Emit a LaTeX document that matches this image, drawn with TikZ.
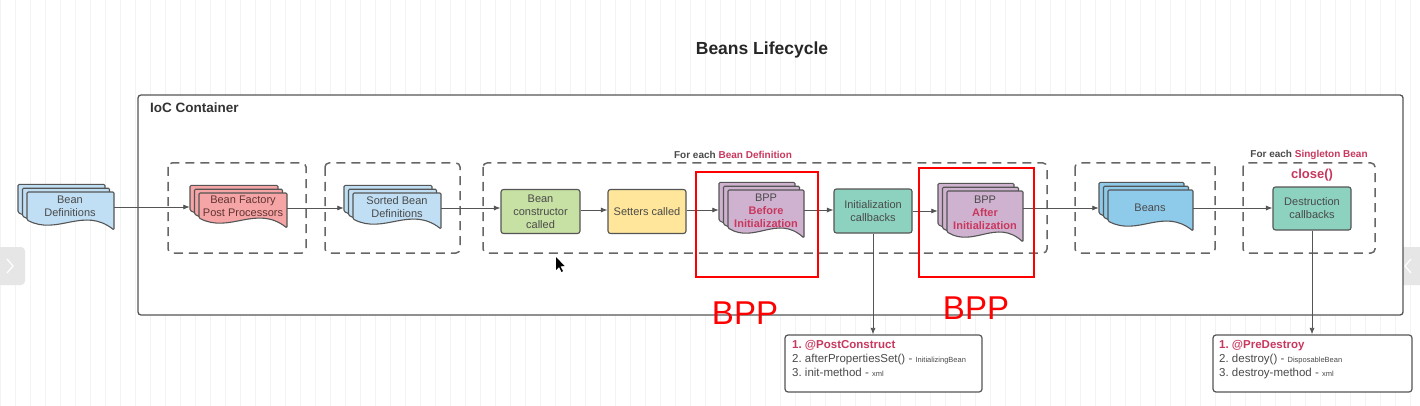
\documentclass[tikz,border=0pt]{standalone}
\usepackage{fontspec}
\setmainfont{Liberation Sans}
\usetikzlibrary{arrows.meta}
\frenchspacing
\definecolor{lnc}{HTML}{555555}
\definecolor{txc}{HTML}{4A4A4A}
\definecolor{crim}{HTML}{C8385E}
\definecolor{lblue}{HTML}{C0DFF4}
\definecolor{salmon}{HTML}{F5A5A5}
\definecolor{mauve}{HTML}{CFB2CF}
\definecolor{sky}{HTML}{8ECAEA}
\definecolor{lgreen}{HTML}{C7E0A3}
\definecolor{lyellow}{HTML}{FFE69A}
\definecolor{teal2}{HTML}{8CD2BE}
\definecolor{gridc}{HTML}{F3F3F3}
\definecolor{tabc}{HTML}{E6E6E6}
\newcommand\mydoc[6]{%
  \foreach \s in {2,1,0}{%
    \draw[docline,fill=#5,shift={(-4.5*\s,-3.8*\s)}] (#1,#2) -- (#1,#4) .. controls ({#1+0.35*(#3-#1)},{#4+16}) and ({#1+0.65*(#3-#1)},{#4-14}) .. (#3,{#4+10}) -- (#3,#2) -- cycle;
  }
  \node[inner sep=0,minimum width={(#3-#1+9)*1pt},minimum height={(#4-#2+17.6)*1pt}] (#6) at ({(#1+#3-9)/2},{(#2+#4+10-7.6)/2}) {};
}
\begin{document}
\begin{tikzpicture}[x=1pt,y=-1pt,
  docline/.style={draw=lnc,line width=1.1pt,rounded corners=1.2pt},
  dbox/.style={draw=lnc!90,line width=1.5pt,dash pattern=on 9pt off 6pt,rounded corners=4pt},
  stepbox/.style={draw=lnc,line width=1.1pt,rounded corners=2.5pt,inner sep=0pt},
  btxt/.style={text=txc,align=center,font=\fontsize{11}{13}\selectfont},
  arr/.style={draw=lnc,line width=0.8pt,-{Latex[length=6.5pt,width=5pt]}},
  vline/.style={draw=lnc,line width=0.8pt,-{Latex[length=6.5pt,width=5pt]}},
  redbox/.style={draw=red,line width=2.4pt},
  listbox/.style={draw=lnc,fill=white,line width=1.2pt,rounded corners=3pt,inner sep=0pt},
  listtxt/.style={text=txc,align=left,anchor=north west,font=\fontsize{11.5}{14}\selectfont,inner sep=0pt}
]
\useasboundingbox (0,0) rectangle (1420,406);
\fill[white] (0,0) rectangle (1420,406);
% faint grid
\draw[gridc,line width=0.5pt] (0,0) grid[step=15] (1420,406);
% side tabs
\fill[tabc,rounded corners=4pt] (-6,247) rectangle (25,285);
\draw[white,line width=1.2pt] (7,259) -- (13,266) -- (7,273);
\fill[tabc,rounded corners=4pt] (1392,247) rectangle (1426,285);
\draw[white,line width=1.2pt] (1411,259) -- (1405,266) -- (1411,273);

% title
\node[font=\fontsize{17.5}{20}\selectfont\bfseries,text=black!85] (title) at (762,50) {Beans Lifecycle};

% IoC container
\draw[draw=lnc,fill=white,line width=1.3pt,rounded corners=3pt] (138,95) rectangle (1403,315);
\node[anchor=west,font=\fontsize{13.5}{16}\selectfont\bfseries,text=black!80,inner sep=0pt] (ioc) at (150,108) {IoC Container};

% dashed groups
\draw[dbox] (168,163) rectangle (306,253);
\draw[dbox] (325,163) rectangle (460,253);
\draw[dbox] (483,163) rectangle (1047,253);
\draw[dbox] (1075,163) rectangle (1215,253);
\draw[dbox] (1243,163) rectangle (1375,253);
\node[font=\fontsize{10}{12}\selectfont\bfseries] (lbl1) at (733,155) {\textcolor{txc}{For each} \textcolor{crim}{Bean Definition}};
\node[font=\fontsize{10}{12}\selectfont\bfseries] (lbl2) at (1309,155) {\textcolor{txc}{For each} \textcolor{crim}{Singleton Bean}};
\node[font=\fontsize{13}{15}\selectfont\bfseries,text=crim] (close) at (1312,175) {close()};

% document stacks
\mydoc{27}{192}{114}{220}{lblue}{bd}
\node[btxt] (bdT) at (70,206) {Bean\\Definitions};
\mydoc{199}{193}{287}{218}{salmon}{bfpp}
\node[btxt,text=black!70!red!60!gray] (bfppT) at (243,206) {Bean Factory\\Post Processors};
\mydoc{353}{193}{441}{219}{lblue}{sbd}
\node[btxt] (sbdT) at (397,207) {Sorted Bean\\Definitions};
\mydoc{728}{190}{804}{228}{mauve}{bppb}
\node[btxt] (bppbT) at (766,211) {BPP\\\textcolor{crim}{\bfseries Before}\\\textcolor{crim}{\bfseries Initialization}};
\mydoc{947}{191}{1023}{232}{mauve}{bppa}
\node[btxt] (bppaT) at (985,213) {BPP\\\textcolor{crim}{\bfseries After}\\\textcolor{crim}{\bfseries Initialization}};
\mydoc{1108}{190}{1193}{221}{sky}{beans}
\node[btxt] (beansT) at (1150,208) {Beans};

% step boxes
\node[stepbox,fill=lgreen,minimum width=79pt,minimum height=44pt,btxt] (ctor) at (540.5,211.5) {Bean\\constructor\\called};
\node[stepbox,fill=lyellow,minimum width=78pt,minimum height=44pt,btxt] (set) at (647,211.5) {Setters called};
\node[stepbox,fill=teal2,minimum width=78pt,minimum height=44pt,btxt] (init) at (873,211) {Initialization\\callbacks};
\node[stepbox,fill=teal2,minimum width=78pt,minimum height=43pt,btxt] (dest) at (1312,208.5) {Destruction\\callbacks};

% connectors
\draw[arr] (bd.east |- 0,207) -- (bfpp.west |- 0,207);
\draw[arr] (bfpp.east |- 0,208) -- (sbd.west |- 0,208);
\draw[arr] (sbd.east |- 0,208) -- (ctor.west |- 0,208);
\draw[arr] (ctor.east |- 0,210) -- (set.west |- 0,210);
\draw[arr] (set.east |- 0,210) -- (bppb.west |- 0,210);
\draw[arr] (bppb.east |- 0,210) -- (init.west |- 0,210);
\draw[arr] (init.east |- 0,211) -- (bppa.west |- 0,211);
\draw[arr] (bppa.east |- 0,208) -- (beans.west |- 0,208);
\draw[arr] (beans.east |- 0,208) -- (dest.west |- 0,208);

% red highlight boxes
\draw[redbox] (696,172) rectangle (818,277);
\draw[redbox] (919,168) rectangle (1034,277);
\node[text=red,font=\fontsize{33}{36}\selectfont] (bpp1) at (745,313) {BPP};
\node[text=red,font=\fontsize{33}{36}\selectfont] (bpp2) at (976,308) {BPP};

% list boxes
\node[listbox,minimum width=197pt,minimum height=57pt] (list1) at (883.5,363.5) {};
\node[listtxt] (list1T) at (792,340) {\textcolor{crim}{\bfseries 1. @PostConstruct}\\2. afterPropertiesSet() - {\fontsize{7.5}{9}\selectfont InitializingBean}\\3. init-method - {\fontsize{7.5}{9}\selectfont xml}};
\node[listbox,minimum width=199pt,minimum height=57pt] (list2) at (1312.5,363.5) {};
\node[listtxt] (list2T) at (1219,340) {\textcolor{crim}{\bfseries 1. @PreDestroy}\\2. destroy() - {\fontsize{7.5}{9}\selectfont DisposableBean}\\3. destroy-method - {\fontsize{7.5}{9}\selectfont xml}};
\draw[vline] (init.south) -- (init.south |- list1.north);
\draw[vline] (dest.south) -- (dest.south |- list2.north);

% mouse cursor
\fill[black] (556,257) -- (556,270) -- (559,267) -- (561.5,272) -- (563,271.2) -- (560.5,266.4) -- (564.5,266) -- cycle;
\end{tikzpicture}
\end{document}
